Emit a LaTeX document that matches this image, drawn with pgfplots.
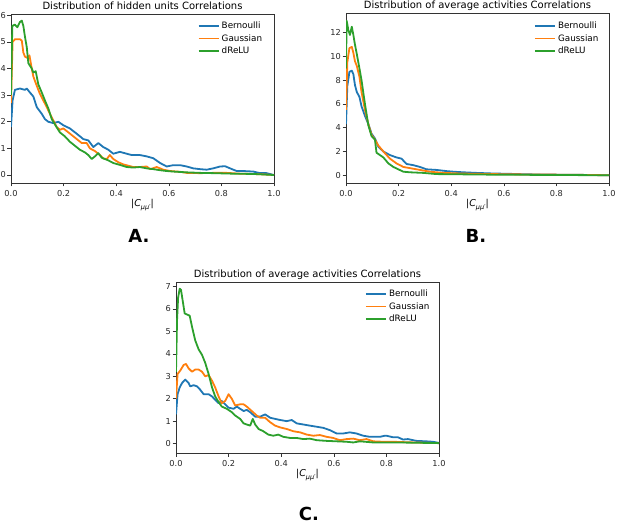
\documentclass[border=0pt]{standalone}
\usepackage{pgfplots}
\pgfplotsset{compat=1.18}
\usepackage{fontspec}
\setmainfont{DejaVu Sans}
\definecolor{tabblue}{RGB}{31,119,180}
\definecolor{taborange}{RGB}{255,127,14}
\definecolor{tabgreen}{RGB}{44,160,44}
\pgfplotsset{
  every axis title/.style={at={(0.5,1)}, anchor=base, yshift=4.5pt, inner sep=0pt,
     font=\fontsize{10}{11}\selectfont},
  panel/.style={
    scale only axis, width=263pt,
    xmin=0, xmax=1,
    axis line style={black!80, line width=0.6pt},
    tick align=outside, xtick pos=bottom, ytick pos=left,
    major tick length=3.5pt,
    tick style={black!80, line width=0.6pt},
    xtick={0,0.2,0.4,0.6,0.8,1.0},
    xticklabels={0.0,0.2,0.4,0.6,0.8,1.0},
    /pgf/number format/assume math mode=true,
    tick label style={font=\fontsize{8.2}{9}\selectfont, text=black!85},
    yticklabel style={inner sep=1.5pt},
    xlabel={|\textit{C}\raisebox{-0.45ex}{\fontsize{6.5}{7}\selectfont\itshape μμ′}|},
    xlabel style={font=\fontsize{9.5}{10}\selectfont, at={(axis description cs:0.5,0)}, anchor=center, yshift=-22pt},
    legend style={draw=none, fill=none, anchor=north west, inner sep=0pt,
      font=\fontsize{8.8}{9}\selectfont, row sep=0pt, cells={anchor=west},
      nodes={inner sep=2.25pt}},
    legend image code/.code={\draw[#1] (0pt,0pt) -- (20pt,0pt);},
    every axis plot/.append style={line width=1.8pt, line join=round},
  }
}
\begin{document}
\begin{tikzpicture}[x=1pt,y=1pt]
\useasboundingbox (0,0) rectangle (617,524);
% ---------- A ----------
\begin{axis}[panel, at={(11pt,341pt)}, anchor=south west, height=169pt,
  ymin=-0.3, ymax=6.05, ytick={0,1,2,3,4,5,6},
  title={Distribution of hidden units Correlations},
  legend style={at={(0.709,0.969)}}]
\addplot[tabblue] coordinates {
(0,1.8)(0.006,2.8)(0.015,3.2)(0.034,3.25)(0.053,3.2)(0.060,3.25)(0.072,3.1)(0.085,2.95)(0.098,2.55)(0.117,2.3)(0.129,2.1)(0.142,2.0)(0.161,1.95)(0.180,2.0)(0.199,1.87)(0.224,1.75)(0.250,1.55)(0.275,1.35)(0.294,1.3)(0.313,1.05)(0.332,1.2)(0.351,1.05)(0.370,0.95)(0.389,0.8)(0.414,0.87)(0.440,0.8)(0.459,0.75)(0.490,0.75)(0.516,0.7)(0.541,0.63)(0.567,0.45)(0.592,0.32)(0.617,0.37)(0.643,0.37)(0.668,0.32)(0.693,0.25)(0.719,0.22)(0.744,0.2)(0.769,0.25)(0.795,0.32)(0.814,0.33)(0.833,0.25)(0.858,0.15)(0.883,0.15)(0.921,0.13)(0.947,0.07)(0.972,0.07)(1,0.0)};
\addlegendentry{Bernoulli}
\addplot[taborange] coordinates {
(0,2.7)(0.006,5.0)(0.015,5.1)(0.034,5.1)(0.041,5.05)(0.047,4.6)(0.053,4.45)(0.062,4.4)(0.070,4.5)(0.079,4.0)(0.085,3.7)(0.098,3.35)(0.110,3.05)(0.123,2.8)(0.136,2.55)(0.148,2.3)(0.161,2.05)(0.174,1.8)(0.186,1.7)(0.199,1.75)(0.212,1.65)(0.231,1.5)(0.250,1.35)(0.269,1.2)(0.288,1.2)(0.300,1.0)(0.319,0.9)(0.338,0.75)(0.351,0.62)(0.364,0.6)(0.376,0.75)(0.389,0.6)(0.408,0.48)(0.427,0.4)(0.446,0.35)(0.465,0.3)(0.490,0.3)(0.516,0.32)(0.529,0.22)(0.554,0.3)(0.579,0.2)(0.605,0.15)(0.643,0.12)(0.668,0.08)(0.719,0.07)(0.769,0.08)(0.820,0.08)(0.871,0.05)(0.947,0.03)(1,0.0)};
\addlegendentry{Gaussian}
\addplot[tabgreen] coordinates {
(0,3.0)(0.005,5.6)(0.015,5.65)(0.024,5.55)(0.034,5.75)(0.041,5.8)(0.047,5.6)(0.053,5.2)(0.060,4.8)(0.066,4.2)(0.079,4.0)(0.085,3.85)(0.094,3.9)(0.104,3.4)(0.117,3.1)(0.129,2.8)(0.142,2.5)(0.155,2.1)(0.167,1.9)(0.186,1.6)(0.205,1.45)(0.224,1.25)(0.243,1.1)(0.262,0.95)(0.281,0.85)(0.294,0.75)(0.307,0.6)(0.319,0.7)(0.332,0.82)(0.345,0.65)(0.357,0.6)(0.370,0.55)(0.389,0.45)(0.414,0.38)(0.440,0.3)(0.465,0.28)(0.490,0.3)(0.516,0.25)(0.541,0.22)(0.567,0.18)(0.592,0.15)(0.617,0.13)(0.668,0.1)(0.719,0.08)(0.769,0.07)(0.845,0.05)(0.921,0.04)(1,0.0)};
\addlegendentry{dReLU}
\end{axis}
% ---------- B ----------
\begin{axis}[panel, at={(346pt,341pt)}, anchor=south west, height=170pt,
  ymin=-0.65, ymax=13.65, ytick={0,2,4,6,8,10,12},
  title={Distribution of average activities Correlations},
  legend style={at={(0.714,0.963)}}]
\addplot[tabblue] coordinates {
(0,4.3)(0.005,7.5)(0.013,8.7)(0.022,8.8)(0.028,8.5)(0.034,7.6)(0.041,7.0)(0.051,6.6)(0.059,5.8)(0.072,5.0)(0.085,4.3)(0.097,3.5)(0.110,3.1)(0.123,2.4)(0.142,2.0)(0.167,1.7)(0.192,1.5)(0.211,1.4)(0.230,0.95)(0.256,0.85)(0.281,0.7)(0.306,0.5)(0.344,0.45)(0.382,0.35)(0.408,0.3)(0.446,0.25)(0.496,0.2)(0.559,0.15)(0.623,0.12)(0.686,0.08)(0.749,0.06)(0.876,0.04)(1,0.0)};
\addlegendentry{Bernoulli}
\addplot[taborange] coordinates {
(0,5.5)(0.005,9.5)(0.013,10.7)(0.022,10.8)(0.028,10.3)(0.034,9.6)(0.041,9.2)(0.051,8.3)(0.059,7.0)(0.072,5.5)(0.085,4.3)(0.097,3.4)(0.110,3.0)(0.123,2.5)(0.142,2.0)(0.167,1.4)(0.192,1.0)(0.218,0.7)(0.243,0.6)(0.281,0.45)(0.319,0.3)(0.370,0.2)(0.433,0.15)(0.496,0.12)(0.623,0.08)(0.749,0.06)(0.876,0.04)(1,0.0)};
\addlegendentry{Gaussian}
\addplot[tabgreen] coordinates {
(0,9.0)(0.0025,13.0)(0.009,12.2)(0.015,11.8)(0.022,12.5)(0.028,11.8)(0.034,11.0)(0.041,10.2)(0.051,9.0)(0.059,8.0)(0.072,6.0)(0.085,4.2)(0.097,3.3)(0.110,3.0)(0.116,1.9)(0.129,1.7)(0.142,1.5)(0.161,1.0)(0.180,0.7)(0.199,0.5)(0.218,0.3)(0.243,0.25)(0.294,0.2)(0.344,0.1)(0.433,0.08)(0.559,0.05)(0.749,0.03)(1,0.0)};
\addlegendentry{dReLU}
\end{axis}
% ---------- C ----------
\begin{axis}[panel, at={(176pt,71pt)}, anchor=south west, height=171pt,
  ymin=-0.42, ymax=7.2, ytick={0,1,2,3,4,5,6,7},
  title={Distribution of average activities Correlations},
  legend style={at={(0.718,0.969)}}]
\addplot[tabblue] coordinates {
(0,1.3)(0.006,2.2)(0.014,2.5)(0.023,2.7)(0.035,2.85)(0.048,2.7)(0.054,2.55)(0.067,2.6)(0.080,2.55)(0.092,2.4)(0.105,2.2)(0.124,2.2)(0.137,2.1)(0.149,1.95)(0.162,1.8)(0.174,1.9)(0.187,1.75)(0.200,1.6)(0.219,1.55)(0.231,1.65)(0.244,1.55)(0.257,1.45)(0.269,1.5)(0.282,1.4)(0.301,1.2)(0.320,1.2)(0.339,1.3)(0.358,1.15)(0.377,1.1)(0.396,1.05)(0.421,1.0)(0.440,1.05)(0.459,0.9)(0.484,0.85)(0.509,0.8)(0.535,0.75)(0.560,0.7)(0.585,0.6)(0.611,0.45)(0.636,0.45)(0.661,0.5)(0.686,0.45)(0.712,0.35)(0.737,0.3)(0.775,0.3)(0.794,0.35)(0.800,0.35)(0.826,0.28)(0.844,0.28)(0.863,0.18)(0.882,0.2)(0.914,0.12)(0.952,0.1)(0.977,0.08)(1,0.03)};
\addlegendentry{Bernoulli}
\addplot[taborange] coordinates {
(0,2.0)(0.006,3.1)(0.016,3.25)(0.029,3.5)(0.038,3.55)(0.048,3.35)(0.061,3.2)(0.073,3.3)(0.086,3.3)(0.099,3.2)(0.111,3.0)(0.124,3.05)(0.137,2.8)(0.149,2.5)(0.162,2.1)(0.174,1.8)(0.187,1.9)(0.200,2.2)(0.212,2.0)(0.225,1.7)(0.244,1.75)(0.257,1.75)(0.269,1.65)(0.288,1.45)(0.307,1.25)(0.320,1.15)(0.339,1.15)(0.358,0.95)(0.377,0.8)(0.396,0.72)(0.421,0.65)(0.446,0.55)(0.472,0.5)(0.497,0.4)(0.522,0.35)(0.547,0.38)(0.573,0.3)(0.598,0.25)(0.623,0.15)(0.649,0.2)(0.674,0.22)(0.699,0.15)(0.724,0.2)(0.750,0.1)(0.788,0.08)(0.826,0.08)(0.876,0.06)(0.939,0.04)(1,0.02)};
\addlegendentry{Gaussian}
\addplot[tabgreen] coordinates {
(0,3.2)(0.004,5.5)(0.008,6.5)(0.014,6.9)(0.019,6.85)(0.025,6.4)(0.033,5.8)(0.042,5.75)(0.052,5.7)(0.061,5.2)(0.073,4.6)(0.086,4.2)(0.099,3.95)(0.111,3.6)(0.124,3.1)(0.137,2.5)(0.149,2.1)(0.162,1.85)(0.174,1.65)(0.193,1.55)(0.212,1.4)(0.225,1.25)(0.244,1.1)(0.257,0.9)(0.269,0.85)(0.282,0.8)(0.292,1.1)(0.301,0.85)(0.314,0.65)(0.332,0.55)(0.351,0.4)(0.370,0.35)(0.389,0.4)(0.408,0.3)(0.434,0.25)(0.459,0.25)(0.484,0.2)(0.509,0.22)(0.535,0.15)(0.573,0.12)(0.611,0.1)(0.649,0.08)(0.674,0.05)(0.699,0.1)(0.750,0.05)(0.826,0.05)(0.901,0.04)(1,0.02)};
\addlegendentry{dReLU}
\end{axis}
% panel labels
\node[font=\bfseries\fontsize{18}{18}\selectfont, anchor=base, inner sep=0pt] at (139,281) {A.};
\node[font=\bfseries\fontsize{18}{18}\selectfont, anchor=base, inner sep=0pt] at (476,281) {B.};
\node[font=\bfseries\fontsize{18}{18}\selectfont, anchor=base, inner sep=0pt] at (309,3.5) {C.};
\end{tikzpicture}
\end{document}
